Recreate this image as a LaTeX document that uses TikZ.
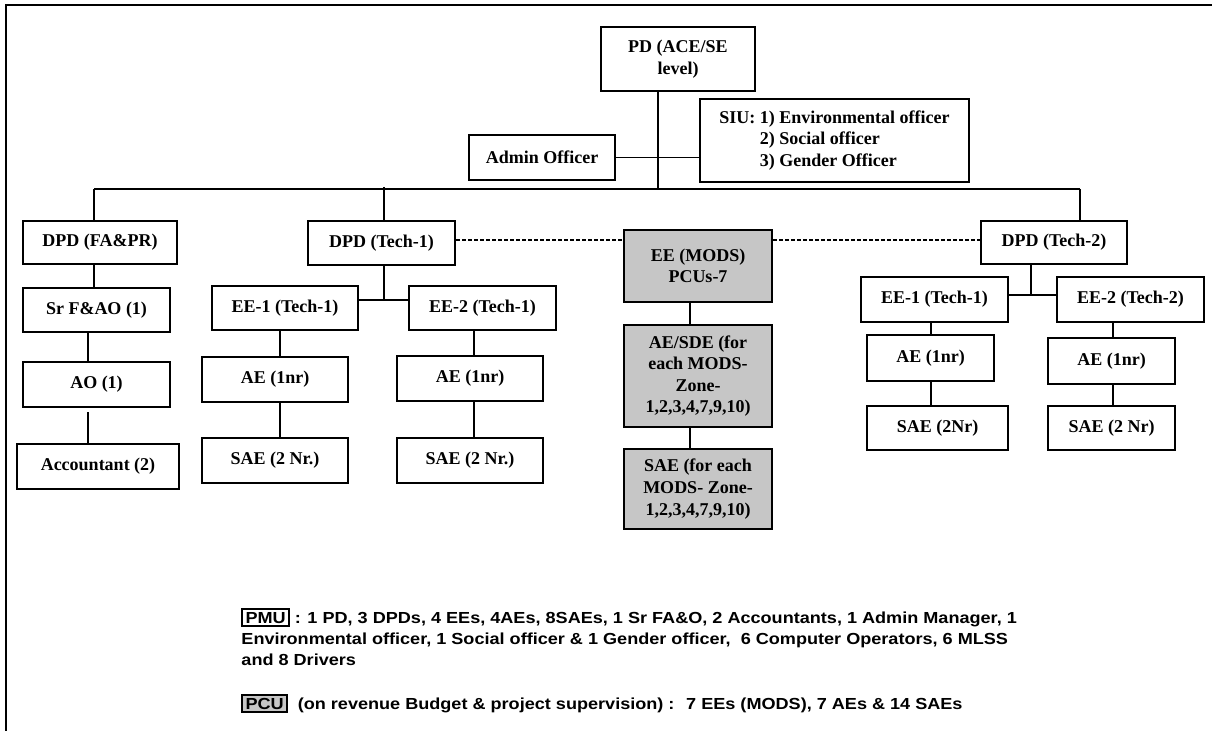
\documentclass[tikz,border=0pt]{standalone}
\usepackage{fontspec}
\setmainfont{Liberation Serif}
\newfontfamily\arialf{Liberation Sans}
\definecolor{boxgrey}{HTML}{C6C6C6}
\tikzset{
  box/.style={draw, line width=1.1pt, inner sep=1pt, align=center, fill=white,
    font=\bfseries\fontsize{9}{10.8}\selectfont},
  greybox/.style={box, fill=boxgrey},
  sz/.style 2 args={minimum width=#1*0.5pt, minimum height=#2*0.5pt},
  link/.style={line width=0.9pt},
  boldlink/.style={line width=1.4pt},
  dotlink/.style={line width=0.7pt, dash pattern=on 2pt off 1pt},
  note/.style={anchor=north west, inner sep=0pt, align=left, xscale=1.13, transform shape,
    font=\arialf\bfseries\fontsize{8}{10.5}\selectfont}
}
\begin{document}
\begin{tikzpicture}[x=0.5pt,y=-0.5pt]
\useasboundingbox (0,0) rectangle (1212,731);
% outer frame (only top and left edges are visible)
\draw[line width=1.1pt] (6,731) -- (6,5) -- (1212,5);

% top level
\node[box, sz={154}{64}] (pd) at (678,59) {PD (ACE/SE\\level)};
\node[box, sz={269}{83}] (siu) at (834.5,140.5) {\begin{tabular}{@{}l@{ }l@{}}SIU: & 1) Environmental officer\\ & 2) Social officer\\ & 3) Gender Officer\end{tabular}};
\node[box, sz={146}{45}] (admin) at (542,157.5) {Admin Officer};

% second level
\node[box, sz={154}{43}] (dpdfa) at (100,242.5) {DPD (FA\&PR)};
\node[box, sz={147}{44}] (dpd1) at (381.5,243) {DPD (Tech-1)};
\node[box, sz={146}{43}] (dpd2) at (1054,242.5) {DPD (Tech-2)};
\node[greybox, sz={148}{72}] (mods) at (698,266) {EE (MODS)\\PCUs-7};

% finance column
\node[box, sz={147}{44}] (srfa) at (96.5,310) {Sr F\&AO (1)};
\node[box, sz={147}{45}] (ao) at (96.5,384.5) {AO (1)};
\node[box, sz={162}{45}] (acct) at (98,466.5) {Accountant (2)};

% tech-1 columns
\node[box, sz={146}{44}] (ee11) at (285,308) {EE-1 (Tech-1)};
\node[box, sz={147}{44}] (ee21) at (482.5,308) {EE-2 (Tech-1)};
\node[box, sz={146}{45}] (ae1) at (275,379.5) {AE (1nr)};
\node[box, sz={146}{45}] (ae2) at (470,378.5) {AE (1nr)};
\node[box, sz={146}{45}] (sae1) at (275,460.5) {SAE (2 Nr.)};
\node[box, sz={146}{45}] (sae2) at (470,460.5) {SAE (2 Nr.)};

% MODS column
\node[greybox, sz={148}{102}] (aesde) at (698,376) {AE/SDE (for\\each MODS-\\Zone-\\1,2,3,4,7,9,10)};
\node[greybox, sz={148}{80}] (saeg) at (698,489) {SAE (for each\\MODS- Zone-\\1,2,3,4,7,9,10)};

% tech-2 columns
\node[box, sz={147}{45}] (ee12) at (934.5,299.5) {EE-1 (Tech-1)};
\node[box, sz={147}{45}] (ee22) at (1130.5,299.5) {EE-2 (Tech-2)};
\node[box, sz={127}{46}] (ae3) at (930.5,358) {AE (1nr)};
\node[box, sz={127}{46}] (ae4) at (1111.5,361) {AE (1nr)};
\node[box, sz={141}{44}] (sae3) at (937.5,428) {SAE (2Nr)};
\node[box, sz={127}{44}] (sae4) at (1111.5,428) {SAE (2 Nr)};

% helper coordinates
\coordinate (trunk) at (658,189);
\coordinate (busL) at (94,189);
\coordinate (busM) at (384,189);
\coordinate (busR) at (1080,189);
\coordinate (t1) at (384,300);
\coordinate (t2) at (1031,295);
\coordinate (fa1) at (88,0);
\coordinate (c1) at (280,0);
\coordinate (c2) at (474,0);
\coordinate (c3) at (931,0);
\coordinate (c4) at (1113,0);
\coordinate (cm) at (690,0);

% connectors
\draw[link] (pd.south -| trunk) -- (trunk);
\draw[link] (admin.east) -- (admin.east -| siu.west);
\draw[link] (busL) -- (busR);
\draw[link] (busL) -- (busL |- dpdfa.north);
\draw[link] ([yshift=1pt]busM) -- (busM |- dpd1.north);
\draw[link] (busR) -- (busR |- dpd2.north);
\draw[link] (busL |- dpdfa.south) -- (busL |- srfa.north);
\draw[link] (fa1 |- srfa.south) -- (fa1 |- ao.north);
\draw[link] ([yshift=-2pt]fa1 |- ao.south) -- (fa1 |- acct.north);

\draw[link] (t1 |- dpd1.south) -- (t1);
\draw[boldlink] (ee11.east |- t1) -- (ee21.west |- t1);
\draw[link] (c1 |- ee11.south) -- (c1 |- ae1.north);
\draw[link] (c1 |- ae1.south) -- (c1 |- sae1.north);
\draw[link] (c2 |- ee21.south) -- (c2 |- ae2.north);
\draw[link] (c2 |- ae2.south) -- (c2 |- sae2.north);

\draw[dotlink] (dpd1.east |- 0,240) -- (mods.west |- 0,240);
\draw[dotlink] (mods.east |- 0,240) -- (dpd2.west |- 0,240);
\draw[link] (cm |- mods.south) -- (cm |- aesde.north);
\draw[link] (cm |- aesde.south) -- (cm |- saeg.north);

\draw[link] (t2 |- dpd2.south) -- (t2);
\draw[link] (ee12.east |- t2) -- (ee22.west |- t2);
\draw[link] (c3 |- ee12.south) -- (c3 |- ae3.north);
\draw[link] (c3 |- ae3.south) -- (c3 |- sae3.north);
\draw[link] (c4 |- ee22.south) -- (c4 |- ae4.north);
\draw[link] (c4 |- ae4.south) -- (c4 |- sae4.north);

% notes
\node[note] (pmu) at (241,608) {\setlength{\fboxsep}{1pt}\setlength{\fboxrule}{0.8pt}\fbox{PMU} : 1 PD, 3 DPDs, 4 EEs, 4AEs, 8SAEs, 1 Sr FA\&O, 2 Accountants, 1 Admin Manager, 1\\
Environmental officer, 1 Social officer \& 1 Gender officer, \ 6 Computer Operators, 6 MLSS\\
and 8 Drivers};
\node[note] (pcu) at (241,694) {\setlength{\fboxsep}{1pt}\setlength{\fboxrule}{0.8pt}\fcolorbox{black}{boxgrey}{PCU} \ (on revenue Budget \& project supervision) : \ 7 EEs (MODS), 7 AEs \& 14 SAEs};
\end{tikzpicture}
\end{document}
